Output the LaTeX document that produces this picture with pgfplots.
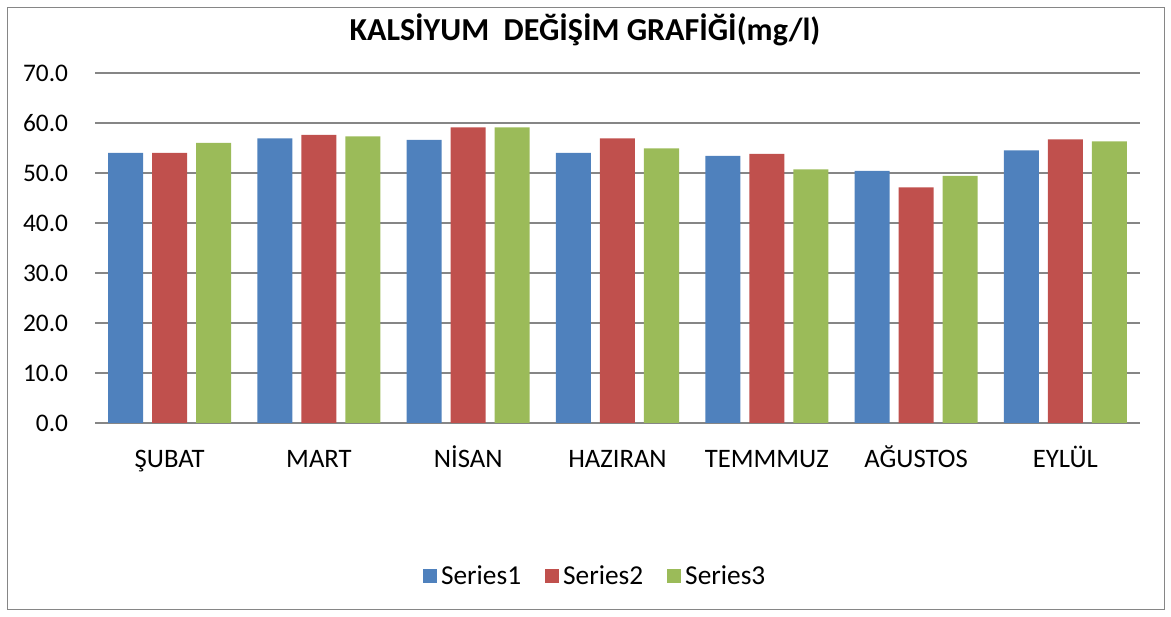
\documentclass[border=0pt]{standalone}
\usepackage{pgfplots}
\pgfplotsset{compat=1.18}
\usepackage{fontspec}
\setmainfont{Carlito}
\definecolor{s1}{RGB}{79,129,189}
\definecolor{s2}{RGB}{192,80,77}
\definecolor{s3}{RGB}{155,187,89}
\definecolor{gridc}{RGB}{134,134,134}
\begin{document}
\begin{tikzpicture}
\useasboundingbox (0pt,0pt) rectangle (878.25pt,462.75pt);
\draw[gridc, line width=0.75pt] (5.25pt,5.25pt) rectangle (873pt,456.75pt);
\node[font=\fontsize{24}{28}\selectfont\bfseries] at (438.75pt,440.25pt) {KALSİYUM\ \ DEĞİŞİM GRAFİĞİ(mg/l)};
\begin{axis}[
  at={(71.25pt,145.5pt)}, anchor=south west,
  scale only axis,
  width=783.75pt, height=262.5pt,
  xmin=-0.5, xmax=6.5, ymin=0, ymax=70,
  ytick={0,10,...,70},
  xtick={0,...,6},
  xticklabels={ŞUBAT,MART,NİSAN,HAZIRAN,TEMMMUZ,AĞUSTOS,EYLÜL},
  ybar=6.75pt, bar width=26.25pt,
  axis line style={draw=none},
  major tick length=0pt,
  ymajorgrids, grid style={gridc, line width=1.5pt},
  yticklabel style={font=\fontsize{19}{22}\selectfont, anchor=east, inner sep=0pt, xshift=-20pt},
  xticklabel style={font=\fontsize{20}{24}\selectfont, anchor=base, inner sep=0pt, yshift=-33.75pt},
  /pgf/number format/.cd, fixed, fixed zerofill, precision=1, assume math mode=true,
  /pgfplots/.cd,
  legend style={at={(0.3139,-0.437)}, anchor=west, draw=none, legend columns=3,
    inner sep=0pt, outer sep=0pt,
    font=\fontsize{20.5}{24}\selectfont,
    nodes={inner sep=0pt, outer sep=0pt},
    /tikz/every odd column/.append style={column sep=3pt},
    /tikz/every even column/.append style={column sep=18pt}},
  legend image code/.code={\fill[#1] (0pt,-5.25pt) rectangle (10.5pt,5.25pt);},
]
\addplot[fill=s1, draw=none] coordinates {(0,54.0) (1,56.9) (2,56.6) (3,54.0) (4,53.4) (5,50.4) (6,54.5)};
\addplot[fill=s2, draw=none] coordinates {(0,54.0) (1,57.6) (2,59.1) (3,56.9) (4,53.8) (5,47.1) (6,56.7)};
\addplot[fill=s3, draw=none] coordinates {(0,56.0) (1,57.3) (2,59.1) (3,54.9) (4,50.7) (5,49.4) (6,56.3)};
\legend{Series1,Series2,Series3}
\end{axis}
\end{tikzpicture}
\end{document}
